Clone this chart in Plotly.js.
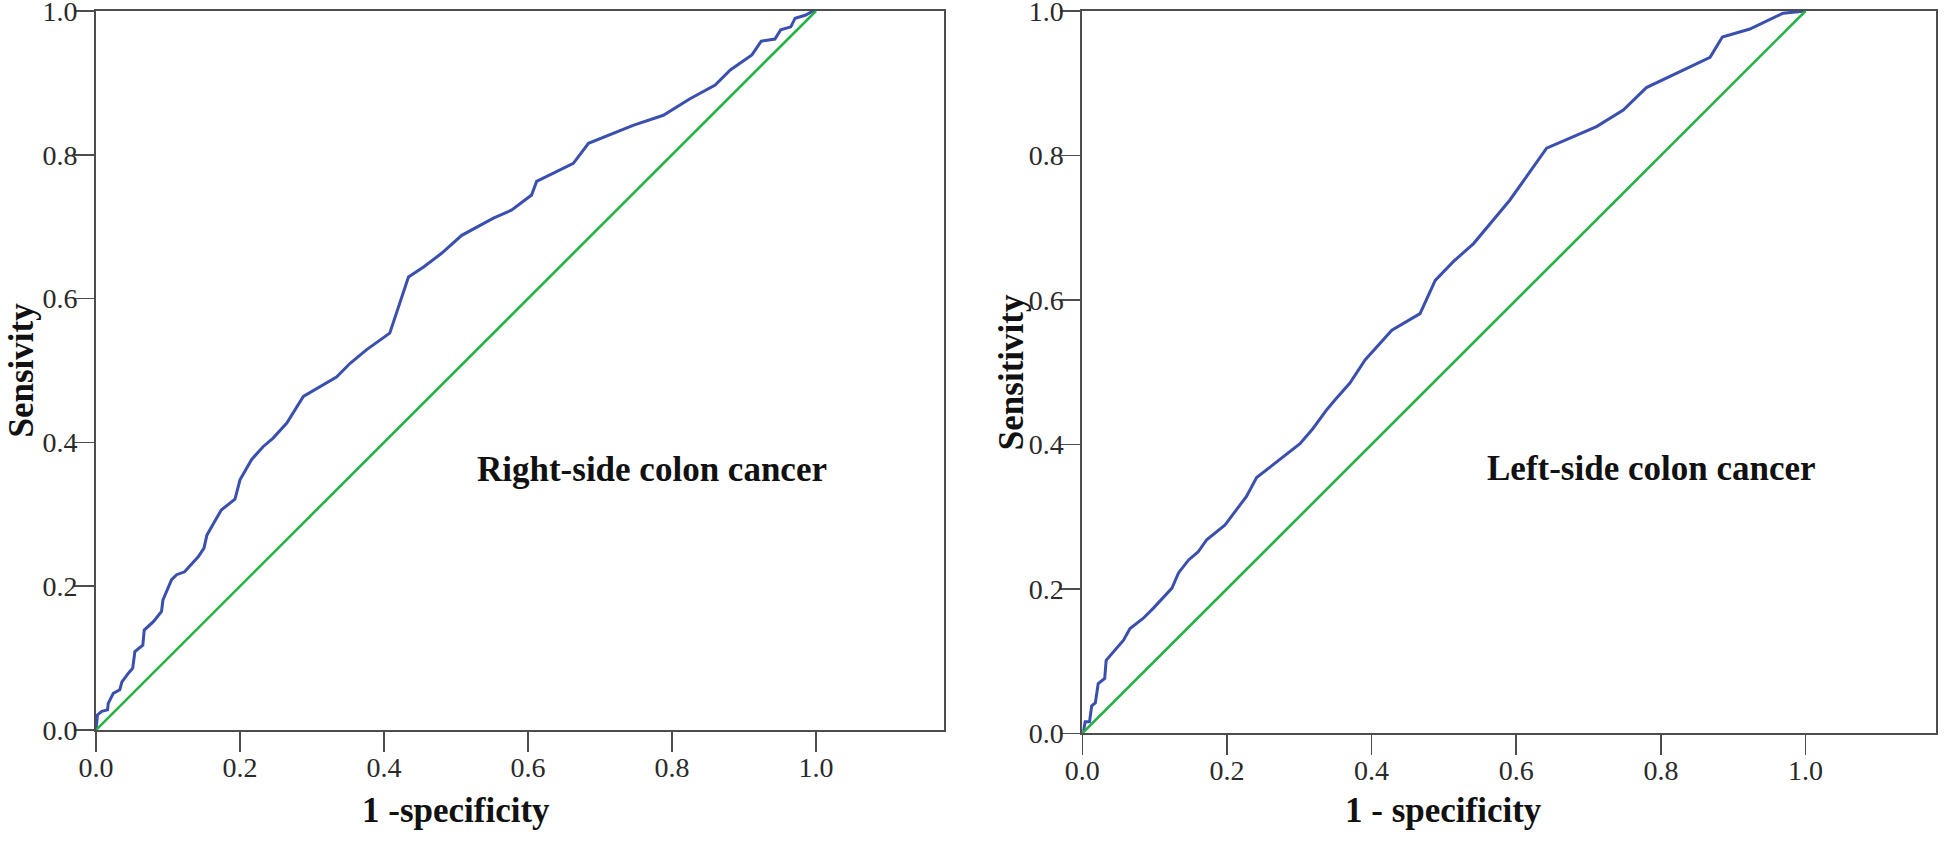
<!DOCTYPE html>
<html>
<head>
<meta charset="utf-8">
<script src="https://cdn.plot.ly/plotly-3.0.1.min.js"></script>
<style>html,body{margin:0;padding:0;background:#fff;}#chart{width:1944px;height:842px;}</style>
</head>
<body>
<div id="chart"></div>
<script>
// Right-side colon cancer ROC (1 - specificity, sensitivity)
const rightFpr = [0, 0.002, 0.008, 0.016, 0.017, 0.024, 0.033, 0.036, 0.045, 0.051, 0.054, 0.065, 0.067, 0.080, 0.091, 0.093, 0.105, 0.112, 0.123, 0.142, 0.150, 0.154, 0.163, 0.174, 0.193, 0.200, 0.216, 0.232, 0.246, 0.265, 0.288, 0.311, 0.334, 0.353, 0.376, 0.408, 0.434, 0.455, 0.480, 0.508, 0.533, 0.552, 0.577, 0.605, 0.612, 0.663, 0.684, 0.746, 0.788, 0.825, 0.860, 0.881, 0.911, 0.924, 0.943, 0.951, 0.965, 0.971, 0.985, 0.996, 1.0];
const rightTpr = [0, 0.021, 0.026, 0.028, 0.037, 0.051, 0.056, 0.067, 0.079, 0.086, 0.109, 0.118, 0.139, 0.151, 0.165, 0.181, 0.209, 0.216, 0.220, 0.241, 0.253, 0.271, 0.287, 0.306, 0.321, 0.348, 0.376, 0.394, 0.406, 0.427, 0.464, 0.477, 0.491, 0.510, 0.529, 0.552, 0.630, 0.644, 0.663, 0.688, 0.702, 0.712, 0.723, 0.744, 0.763, 0.788, 0.816, 0.841, 0.855, 0.878, 0.897, 0.918, 0.939, 0.958, 0.961, 0.974, 0.978, 0.990, 0.994, 1.0, 1.0];

// Left-side colon cancer ROC
const leftFpr = [0, 0.002, 0.004, 0.010, 0.013, 0.018, 0.022, 0.031, 0.033, 0.043, 0.057, 0.066, 0.084, 0.098, 0.124, 0.133, 0.147, 0.160, 0.172, 0.197, 0.227, 0.241, 0.269, 0.301, 0.319, 0.338, 0.349, 0.370, 0.391, 0.428, 0.467, 0.488, 0.513, 0.541, 0.591, 0.642, 0.711, 0.748, 0.780, 0.868, 0.885, 0.923, 0.969, 1.0];
const leftTpr = [0, 0.005, 0.016, 0.016, 0.038, 0.042, 0.069, 0.076, 0.101, 0.113, 0.129, 0.145, 0.159, 0.173, 0.201, 0.222, 0.240, 0.251, 0.268, 0.288, 0.328, 0.354, 0.376, 0.401, 0.422, 0.448, 0.461, 0.485, 0.517, 0.558, 0.581, 0.627, 0.653, 0.678, 0.738, 0.810, 0.840, 0.863, 0.894, 0.936, 0.964, 0.975, 0.997, 1.0];

const refLine = [0, 1];
const tickVals = [0, 0.2, 0.4, 0.6, 0.8, 1.0];
const tickText = ["0.0", "0.2", "0.4", "0.6", "0.8", "1.0"];
const panelLabels = ["Right-side colon cancer", "Left-side colon cancer"];
const xTitles = ["1 -specificity", "1 - specificity"];
const yTitles = ["Sensivity", "Sensitivity"];

const W = 1944, H = 842;
const BLUE = "#3a4fae", GREEN = "#25b244", AXC = "#4d4d4d";
const serif = "Liberation Serif, Times New Roman, serif";

const traces = [
  {x: rightFpr, y: rightTpr, xaxis: "x", yaxis: "y", mode: "lines", line: {color: BLUE, width: 3}, hoverinfo: "skip", cliponaxis: false},
  {x: refLine, y: refLine, xaxis: "x", yaxis: "y", mode: "lines", line: {color: GREEN, width: 2.6}, hoverinfo: "skip", cliponaxis: false},
  {x: leftFpr, y: leftTpr, xaxis: "x2", yaxis: "y2", mode: "lines", line: {color: BLUE, width: 3}, hoverinfo: "skip", cliponaxis: false},
  {x: refLine, y: refLine, xaxis: "x2", yaxis: "y2", mode: "lines", line: {color: GREEN, width: 2.6}, hoverinfo: "skip", cliponaxis: false}
];

function axisCommon(standoff) {
  return {
    showline: true, mirror: true, linecolor: AXC, linewidth: 2,
    ticks: "outside", ticklen: 20, tickwidth: 1.5, tickcolor: AXC,
    tickvals: tickVals, ticktext: tickText,
    tickfont: {family: serif, size: 28, color: "#2a2a2a"},
    ticklabelstandoff: standoff, ticklabeloverflow: "allow",
    showgrid: false, zeroline: false, fixedrange: true
  };
}

const layout = {
  width: W, height: H,
  margin: {l: 0, r: 0, t: 0, b: 0},
  paper_bgcolor: "#fff", plot_bgcolor: "#fff",
  showlegend: false,
  xaxis: Object.assign(axisCommon(-9), {domain: [96/W, 944/W], range: [0, 1.1778], anchor: "y"}),
  yaxis: Object.assign(axisCommon(-9), {domain: [1 - 730/H, 1 - 11/H], range: [0, 1], anchor: "x"}),
  xaxis2: Object.assign(axisCommon(-9), {domain: [1082.3/W, 1935.7/W], range: [0, 1.18], anchor: "y2"}),
  yaxis2: Object.assign(axisCommon(-9), {domain: [1 - 733.3/H, 1 - 11/H], range: [0, 1], anchor: "x2"}),
  annotations: [
    {xref: "x", yref: "y", x: 0.526, y: 0.363, xanchor: "left", yanchor: "middle", showarrow: false,
     text: "<b>" + panelLabels[0] + "</b>", font: {family: serif, size: 35, color: "#111"}},
    {xref: "x2", yref: "y2", x: 0.557, y: 0.366, xanchor: "left", yanchor: "middle", showarrow: false,
     text: "<b>" + panelLabels[1] + "</b>", font: {family: serif, size: 35, color: "#111"}},
    {xref: "x", yref: "paper", x: 0.5, y: 1 - 810/H, xanchor: "center", yanchor: "middle", showarrow: false,
     text: "<b>" + xTitles[0] + "</b>", font: {family: serif, size: 35, color: "#111"}},
    {xref: "x2", yref: "paper", x: 0.5, y: 1 - 810/H, xanchor: "center", yanchor: "middle", showarrow: false,
     text: "<b>" + xTitles[1] + "</b>", font: {family: serif, size: 35, color: "#111"}},
    {xref: "paper", yref: "y", x: 21/W, y: 0.5, xanchor: "center", yanchor: "middle", showarrow: false, textangle: -90,
     text: "<b>" + yTitles[0] + "</b>", font: {family: serif, size: 35, color: "#111"}},
    {xref: "paper", yref: "y2", x: 1011/W, y: 0.5, xanchor: "center", yanchor: "middle", showarrow: false, textangle: -90,
     text: "<b>" + yTitles[1] + "</b>", font: {family: serif, size: 35, color: "#111"}}
  ]
};

Plotly.newPlot("chart", traces, layout, {displayModeBar: false, staticPlot: true});
</script>
</body>
</html>
